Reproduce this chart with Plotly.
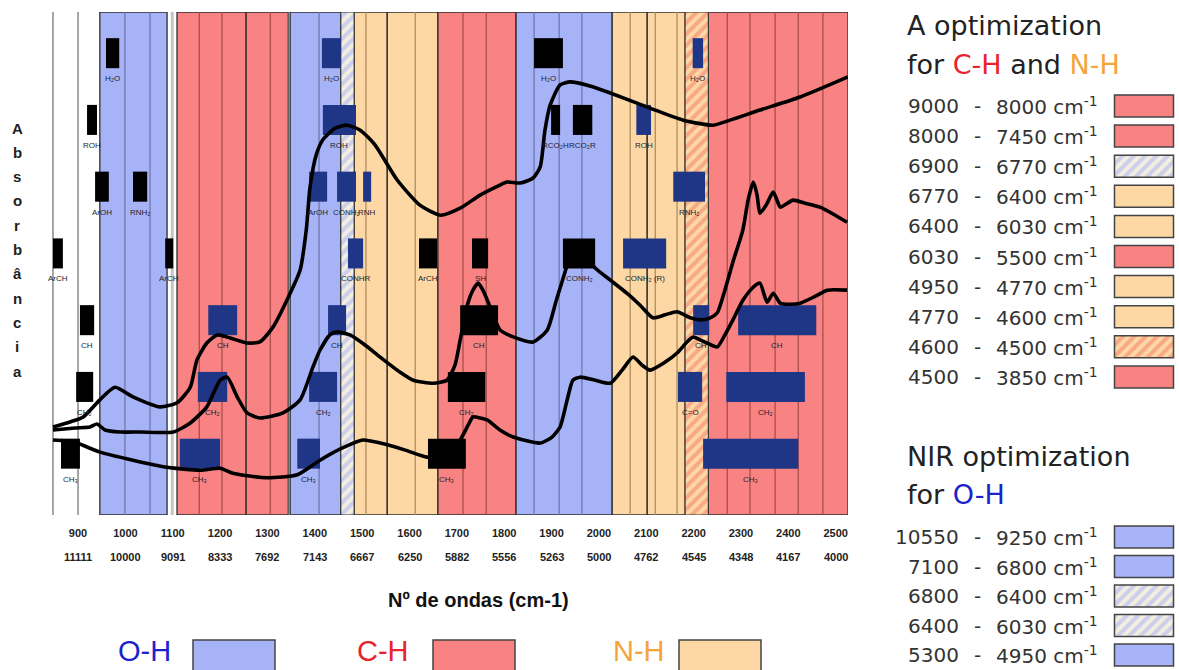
import plotly.graph_objects as go

W, H = 1179, 670

# ---------------- data ----------------
tick_nm = [900, 1000, 1100, 1200, 1300, 1400, 1500, 1600, 1700, 1800, 1900,
           2000, 2100, 2200, 2300, 2400, 2500]
tick_wavenumber = ["11111", "10000", "9091", "8333", "7692", "7143", "6667", "6250",
                   "5882", "5556", "5263", "5000", "4762", "4545", "4348", "4167", "4000"]

band_start = [946, 1109, 1255, 1348, 1483, 1553, 1660, 1825, 2028, 2102, 2231]
band_end = [1088, 1255, 1344, 1455, 1553, 1660, 1825, 2028, 2102, 2182, 2526]
band_group = ["O-H", "C-H", "C-H", "O-H", "N-H", "N-H", "C-H", "O-H", "N-H", "N-H", "C-H"]

mixed_start = [1455, 2182]
mixed_end = [1483, 2231]
mixed_group = ["O-H/N-H", "N-H/C-H"]

division_nm = [847, 900, 999, 1052, 1099, 1156, 1204, 1306, 1346, 1409, 1508, 1612,
               1713, 1762, 1863, 1916, 1964, 2066, 2119, 2165, 2271, 2319, 2372,
               2421, 2473]

box_start = [959, 1415, 1863, 2198,
             919, 1417, 1899, 1945, 2079,
             936, 1016, 1388, 1447, 1502, 2157,
             847, 1084, 1470, 1620, 1732, 1924, 2051,
             904, 1175, 1428, 1707, 2199, 2294,
             896, 1153, 1388, 1681, 2167, 2269,
             864, 1115, 1363, 1639, 2220]
box_end = [987, 1455, 1924, 2220,
           940, 1487, 1918, 1986, 2110,
           965, 1046, 1426, 1487, 1519, 2224,
           868, 1101, 1502, 1658, 1766, 1992, 2142,
           934, 1236, 1466, 1787, 2233, 2459,
           932, 1215, 1447, 1760, 2218, 2435,
           904, 1200, 1411, 1719, 2421]
box_row = [0, 0, 0, 0,
           1, 1, 1, 1, 1,
           2, 2, 2, 2, 2, 2,
           3, 3, 3, 3, 3, 3, 3,
           4, 4, 4, 4, 4, 4,
           5, 5, 5, 5, 5, 5,
           6, 6, 6, 6, 6]
box_kind = ["k", "b", "k", "b",
            "k", "b", "k", "k", "b",
            "k", "k", "b", "b", "b", "b",
            "k", "k", "b", "k", "k", "k", "b",
            "k", "b", "b", "k", "b", "b",
            "k", "b", "b", "k", "b", "b",
            "k", "b", "b", "k", "b"]
box_label = ["H₂O", "H₂O", "H₂O", "H₂O",
             "ROH", "ROH", "RCO₂H", "RCO₂R", "ROH",
             "ArOH", "RNH₂", "ArOH", "CONH₂", "RNH", "RNH₂",
             "ArCH", "ArCH", "CONHR", "ArCH", "SH", "CONH₂", "CONH₂ (R)",
             "CH", "CH", "CH", "CH", "CH", "CH",
             "CH₂", "CH₂", "CH₂", "CH₂", "C=O", "CH₂",
             "CH₃", "CH₃", "CH₃", "CH₃", "CH₃"]

curve1_nm = [847, 883, 911, 946, 978, 1016, 1073, 1109, 1137, 1151, 1172, 1194, 1221,
             1257, 1284, 1312, 1341, 1369, 1382, 1390, 1403, 1417, 1443, 1468, 1496,
             1527, 1574, 1622, 1665, 1707, 1749, 1791, 1806, 1834, 1861, 1876, 1886,
             1897, 1918, 1939, 1981, 2024, 2108, 2178, 2241, 2277, 2340, 2425, 2526]
curve1_abs = [0.175, 0.185, 0.195, 0.229, 0.254, 0.235, 0.215, 0.223, 0.254, 0.308,
              0.342, 0.358, 0.352, 0.342, 0.344, 0.374, 0.427, 0.487, 0.567, 0.652,
              0.716, 0.746, 0.769, 0.775, 0.765, 0.736, 0.666, 0.616, 0.596, 0.610,
              0.636, 0.656, 0.662, 0.660, 0.670, 0.692, 0.765, 0.815, 0.855, 0.861,
              0.853, 0.839, 0.809, 0.785, 0.775, 0.785, 0.805, 0.831, 0.871]

curve2_nm = [847, 894, 925, 940, 957, 989, 1031, 1101, 1137, 1172, 1200, 1215, 1236,
             1257, 1284, 1333, 1369, 1396, 1411, 1432, 1447, 1474, 1506, 1538, 1580,
             1608, 1650, 1679, 1696, 1707, 1722, 1734, 1745, 1755, 1770, 1791, 1819,
             1861, 1891, 1910, 1931, 1945, 1971, 1992, 2024, 2059, 2087, 2114, 2140,
             2165, 2193, 2214, 2235, 2250, 2266, 2283, 2304, 2315, 2326, 2334, 2340,
             2353, 2368, 2376, 2383, 2410, 2435, 2467, 2499, 2524]
curve2_abs = [0.169, 0.173, 0.175, 0.181, 0.169, 0.165, 0.165, 0.165, 0.183, 0.215,
              0.268, 0.274, 0.235, 0.203, 0.193, 0.203, 0.229, 0.294, 0.328, 0.358,
              0.364, 0.358, 0.338, 0.314, 0.284, 0.268, 0.262, 0.268, 0.298, 0.348,
              0.417, 0.447, 0.461, 0.447, 0.414, 0.368, 0.354, 0.344, 0.368, 0.427,
              0.491, 0.537, 0.517, 0.491, 0.467, 0.441, 0.417, 0.392, 0.398, 0.404,
              0.392, 0.388, 0.392, 0.402, 0.447, 0.503, 0.567, 0.626, 0.662, 0.636,
              0.600, 0.616, 0.642, 0.626, 0.612, 0.626, 0.620, 0.612, 0.596, 0.582]

curve3_nm = [847, 873, 898, 946, 1016, 1088, 1158, 1200, 1227, 1299, 1363, 1411, 1453,
             1502, 1538, 1591, 1637, 1679, 1707, 1724, 1734, 1749, 1764, 1791, 1819,
             1876, 1901, 1918, 1933, 1945, 1960, 1992, 2024, 2049, 2072, 2091, 2108,
             2140, 2165, 2186, 2199, 2214, 2228, 2250, 2266, 2283, 2304, 2326, 2340,
             2355, 2368, 2383, 2404, 2425, 2457, 2482, 2524]
curve3_abs = [0.149, 0.147, 0.143, 0.125, 0.109, 0.095, 0.089, 0.093, 0.083, 0.074,
              0.080, 0.109, 0.131, 0.149, 0.143, 0.129, 0.115, 0.119, 0.149, 0.179,
              0.195, 0.193, 0.189, 0.169, 0.155, 0.143, 0.155, 0.175, 0.229, 0.268,
              0.274, 0.268, 0.262, 0.288, 0.314, 0.298, 0.288, 0.304, 0.322, 0.344,
              0.354, 0.348, 0.342, 0.334, 0.358, 0.388, 0.427, 0.453, 0.461, 0.423,
              0.441, 0.421, 0.419, 0.421, 0.435, 0.447, 0.447]

ch_nh_from = ["9000", "8000", "6900", "6770", "6400", "6030", "4950", "4770", "4600", "4500"]
ch_nh_to = ["8000", "7450", "6770", "6400", "6030", "5500", "4770", "4600", "4500", "3850"]
ch_nh_fill = ["C-H", "C-H", "O-H/N-H", "N-H", "N-H", "C-H", "N-H", "N-H", "N-H/C-H", "C-H"]

oh_from = ["10550", "7100", "6800", "6400", "5300"]
oh_to = ["9250", "6800", "6400", "6030", "4950"]
oh_fill = ["O-H", "O-H", "O-H/N-H", "O-H/N-H", "O-H"]

group_names = ["O-H", "C-H", "N-H"]

# ---------------- styles ----------------
FILL = {"O-H": "#a7b3f7", "C-H": "#f98282", "N-H": "#fdd8a4"}
DIV = {"O-H": "#6d73a6", "C-H": "#a34a4a", "N-H": "#a8875a"}
HATCH = {"O-H/N-H": ("#f4eee0", "#a3b0f5"), "N-H/C-H": ("#fdd8a4", "#f47766")}
TEXT_COL = {"O-H": "#1c22cc", "C-H": "#e8232d", "N-H": "#f5a43a"}
NAVY = "#1f3585"
EDGE = "#2e2e2e"
FONT = "DejaVu Sans"

fig = go.Figure()
shapes = []
annotations = []

# coloured bands
for a, b, g in zip(band_start, band_end, band_group):
    shapes.append(dict(type="rect", xref="x", yref="y", x0=a, x1=b, y0=0, y1=1,
                       fillcolor=FILL[g], line=dict(color=EDGE, width=1.3), layer="below"))


def region_of(v):
    for a, b, g in zip(band_start, band_end, band_group):
        if a < v < b:
            return g
    return None


for v in division_nm:
    g = region_of(v)
    if g is None:
        col, wd = ("#c4c4c4", 3) if 1090 < v < 1105 else ("#8a8a8a", 1.5)
    else:
        col, wd = DIV[g], 1.2
    shapes.append(dict(type="line", xref="x", yref="y", x0=v, x1=v, y0=0, y1=1,
                       line=dict(color=col, width=wd), layer="below"))

# hatched (shared) bands
for a, b, g in zip(mixed_start, mixed_end, mixed_group):
    bg, fg = HATCH[g]
    fig.add_trace(go.Bar(x=[(a + b) / 2], y=[1], base=[0], width=[b - a],
                         marker=dict(color=bg, line=dict(color=EDGE, width=1),
                                     pattern=dict(shape="/", bgcolor=bg, fgcolor=fg,
                                                  size=8, solidity=0.5)),
                         hoverinfo="skip", showlegend=False))

# assignment boxes
ROW_TOP0, ROW_STEP, BOX_H = 0.948, 0.1327, 0.0597
for kind, col in (("k", "#000000"), ("b", NAVY)):
    xs, ws, bs = [], [], []
    for a, b, r, k in zip(box_start, box_end, box_row, box_kind):
        if k != kind:
            continue
        top = ROW_TOP0 - ROW_STEP * r
        xs.append((a + b) / 2)
        ws.append(b - a)
        bs.append(top - BOX_H)
    fig.add_trace(go.Bar(x=xs, y=[BOX_H] * len(xs), base=bs, width=ws,
                         marker=dict(color=col, line=dict(width=0)),
                         hoverinfo="skip", showlegend=False))

for a, b, r, lab in zip(box_start, box_end, box_row, box_label):
    top = ROW_TOP0 - ROW_STEP * r
    annotations.append(dict(x=(a + b) / 2, y=top - BOX_H - 0.008, xref="x", yref="y",
                            text=lab, showarrow=False, yanchor="top", xanchor="center",
                            font=dict(family="Liberation Sans", size=8, color="#1e1e30")))

# spectra
for xs, ys in ((curve1_nm, curve1_abs), (curve2_nm, curve2_abs), (curve3_nm, curve3_abs)):
    fig.add_trace(go.Scatter(x=xs, y=ys, mode="lines",
                             line=dict(color="#000000", width=3.6, shape="spline", smoothing=0.6),
                             hoverinfo="skip", showlegend=False))

# second row of tick labels (wavenumbers)
for v, t in zip(tick_nm, tick_wavenumber):
    annotations.append(dict(x=v, y=1 - 557 / H, xref="x", yref="paper", text="<b>" + t + "</b>",
                            showarrow=False, xanchor="center", yanchor="middle",
                            font=dict(family="Liberation Sans", size=11, color="#222222")))

annotations.append(dict(x=478, y=600, xref="x2", yref="y2", text="<b>Nº de ondas (cm-1)</b>",
                        showarrow=False, xanchor="center", yanchor="middle",
                        font=dict(family="Liberation Sans", size=20, color="#111111")))

for i, ch in enumerate("Absorbância"):
    annotations.append(dict(x=17, y=128 + 24.3 * i, xref="x2", yref="y2", text="<b>" + ch + "</b>",
                            showarrow=False, xanchor="center", yanchor="middle",
                            font=dict(family="Liberation Sans", size=15, color="#222222")))

# ---------------- right-hand legends ----------------
TITLE_COL = "#222222"
annotations.append(dict(x=905, y=25, xref="x2", yref="y2", text="A optimization",
                        showarrow=False, xanchor="left", yanchor="middle",
                        font=dict(family=FONT, size=27, color=TITLE_COL)))
annotations.append(dict(x=905, y=64, xref="x2", yref="y2",
                        text="for <span style='color:%s'>C-H</span> and <span style='color:%s'>N-H</span>"
                             % (TEXT_COL["C-H"], TEXT_COL["N-H"]),
                        showarrow=False, xanchor="left", yanchor="middle",
                        font=dict(family=FONT, size=27, color=TITLE_COL)))
annotations.append(dict(x=905, y=456, xref="x2", yref="y2", text="NIR optimization",
                        showarrow=False, xanchor="left", yanchor="middle",
                        font=dict(family=FONT, size=27, color=TITLE_COL)))
annotations.append(dict(x=905, y=494, xref="x2", yref="y2",
                        text="for <span style='color:%s'>O-H</span>" % TEXT_COL["O-H"],
                        showarrow=False, xanchor="left", yanchor="middle",
                        font=dict(family=FONT, size=27, color=TITLE_COL)))

ENTRY_FONT = dict(family=FONT, size=20, color="#333333")


def legend_rows(froms, tos, fills, y0, dy):
    plain = {}
    hatched = {}
    for i, (f, t, k) in enumerate(zip(froms, tos, fills)):
        yc = y0 + dy * i
        annotations.append(dict(x=961, y=yc, xref="x2", yref="y2", text=f, showarrow=False,
                                xanchor="right", yanchor="middle", font=ENTRY_FONT))
        annotations.append(dict(x=977, y=yc, xref="x2", yref="y2", text="-", showarrow=False,
                                xanchor="center", yanchor="middle", font=ENTRY_FONT))
        annotations.append(dict(x=994, y=yc, xref="x2", yref="y2",
                                text=t + " cm<sup>-1</sup>", showarrow=False,
                                xanchor="left", yanchor="middle", font=ENTRY_FONT))
        if k in FILL:
            plain.setdefault(k, []).append(yc)
        else:
            hatched.setdefault(k, []).append(yc)
    for k, ys in plain.items():
        fig.add_trace(go.Bar(x=[1144] * len(ys), y=[22] * len(ys), base=[v - 11 for v in ys],
                             width=[59] * len(ys), xaxis="x2", yaxis="y2",
                             marker=dict(color=FILL[k], line=dict(color="#444444", width=1.5)),
                             hoverinfo="skip", showlegend=False))
    for k, ys in hatched.items():
        bg, fg = HATCH[k]
        fig.add_trace(go.Bar(x=[1144] * len(ys), y=[22] * len(ys), base=[v - 11 for v in ys],
                             width=[59] * len(ys), xaxis="x2", yaxis="y2",
                             marker=dict(color=bg, line=dict(color="#444444", width=1.5),
                                         pattern=dict(shape="/", bgcolor=bg, fgcolor=fg,
                                                      size=8, solidity=0.5)),
                             hoverinfo="skip", showlegend=False))


legend_rows(ch_nh_from, ch_nh_to, ch_nh_fill, 106, 30.1)
legend_rows(oh_from, oh_to, oh_fill, 537, 29.5)

# ---------------- bottom legend ----------------
bottom_text_x = [144, 383, 639]
bottom_swatch_x = [234, 474, 720]
for g, tx, sx in zip(group_names, bottom_text_x, bottom_swatch_x):
    annotations.append(dict(x=tx, y=651, xref="x2", yref="y2", text=g, showarrow=False,
                            xanchor="center", yanchor="middle",
                            font=dict(family="Liberation Sans", size=29, color=TEXT_COL[g])))
    fig.add_trace(go.Bar(x=[sx], y=[34], base=[640], width=[82], xaxis="x2", yaxis="y2",
                         marker=dict(color=FILL[g], line=dict(color="#444444", width=1.5)),
                         hoverinfo="skip", showlegend=False))

fig.update_layout(
    width=W, height=H,
    margin=dict(l=0, r=0, t=0, b=0),
    paper_bgcolor="white", plot_bgcolor="rgba(0,0,0,0)",
    barmode="overlay",
    showlegend=False,
    shapes=shapes,
    annotations=annotations,
    xaxis=dict(domain=[52 / W, 848 / W], range=[845, 2526], tickvals=tick_nm,
               ticktext=["<b>%d</b>" % v for v in tick_nm], showgrid=False, zeroline=False,
               showline=False, ticks="", ticklabelstandoff=10, fixedrange=True,
               tickfont=dict(family="Liberation Sans", size=11, color="#222222")),
    yaxis=dict(domain=[1 - 515 / H, 1 - 12 / H], range=[0, 1], visible=False, fixedrange=True),
    xaxis2=dict(domain=[0, 1], range=[0, W], visible=False, anchor="y2", fixedrange=True),
    yaxis2=dict(domain=[0, 1], range=[H, 0], visible=False, anchor="x2", fixedrange=True),
)

fig.write_html("out.html")
